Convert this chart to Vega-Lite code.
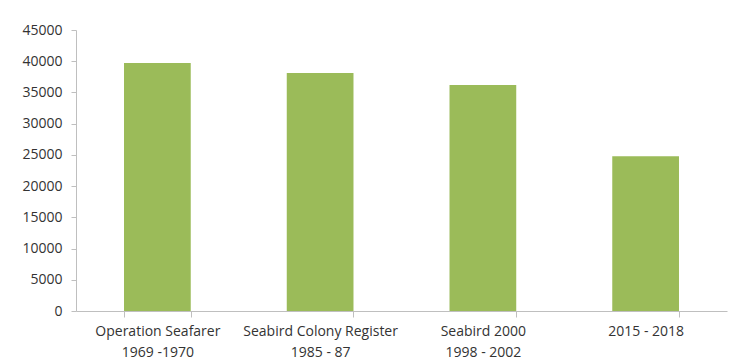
{
  "$schema": "https://vega.github.io/schema/vega-lite/v6.json",
  "autosize": {"type": "none"},
  "width": 651,
  "height": 281,
  "padding": {"left": 76, "top": 30, "right": 3, "bottom": 52},
  "background": "white",
  "config": {
    "view": {"stroke": null},
    "font": "Open Sans"
  },
  "data": {
    "values": [
      {"survey": "Operation Seafarer|1969 -1970", "order": 1, "pairs": 39700},
      {"survey": "Seabird Colony Register|1985 - 87", "order": 2, "pairs": 38100},
      {"survey": "Seabird 2000|1998 - 2002", "order": 3, "pairs": 36200},
      {"survey": "2015 - 2018", "order": 4, "pairs": 24800}
    ]
  },
  "mark": {"type": "bar", "color": "#9bbb59"},
  "encoding": {
    "x": {
      "field": "survey",
      "type": "nominal",
      "sort": {"field": "order"},
      "scale": {"paddingInner": 0.59, "paddingOuter": 0.295},
      "axis": {
        "title": null,
        "labelAngle": 0,
        "labelExpr": "split(datum.label, '|')",
        "labelFontSize": 14,
        "labelColor": "#333333",
        "labelPadding": 7,
        "labelLineHeight": 21,
        "labelBaseline": "top",
        "tickBand": "extent",
        "tickSize": 6,
        "tickColor": "#bfbfbf",
        "domainColor": "#bfbfbf",
        "labelLimit": 300
      }
    },
    "y": {
      "field": "pairs",
      "type": "quantitative",
      "scale": {"domain": [0, 45000], "nice": false},
      "axis": {
        "title": null,
        "values": [0, 5000, 10000, 15000, 20000, 25000, 30000, 35000, 40000, 45000],
        "format": "d",
        "grid": false,
        "labelFontSize": 14,
        "labelColor": "#333333",
        "labelPadding": 9,
        "tickSize": 5,
        "tickColor": "#bfbfbf",
        "domainColor": "#bfbfbf"
      }
    }
  }
}
